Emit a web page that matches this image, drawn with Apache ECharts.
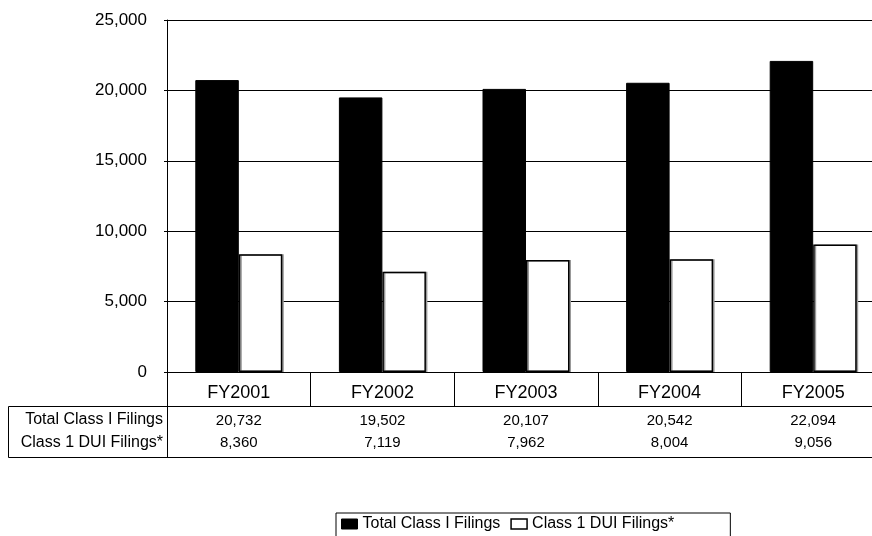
<!DOCTYPE html>
<html><head><meta charset="utf-8">
<script src="https://cdn.jsdelivr.net/npm/echarts@6/dist/echarts.min.js"></script>
<style>html,body{margin:0;padding:0;background:#fff;overflow:hidden;width:872px;height:536px}#c{width:892px;height:536px}</style>
</head><body><div id="c"></div>
<script>
// ---- data ----
const categories = ['FY2001', 'FY2002', 'FY2003', 'FY2004', 'FY2005'];
const totalFilings = [20732, 19502, 20107, 20542, 22094];
const duiFilings = [8360, 7119, 7962, 8004, 9056];
const seriesNames = ['Total Class I Filings', 'Class 1 DUI Filings*'];
const rowLabels = ['Total Class I Filings', 'Class 1 DUI Filings*'];
const yMin = 0, yMax = 25000, yInterval = 5000;

// ---- layout ----
const FONT = 'Liberation Sans, Arial, sans-serif';
const G = { left: 167, top: 20, width: 718, height: 352 };
const catRowH = 34;      // height of the FY label row
const tableH = 51;       // height of the data rows block
const fmt = v => Number(v).toLocaleString('en-US');
const base = G.top + G.height;

const chart = echarts.init(document.getElementById('c'), null, { renderer: 'canvas' });
chart.setOption({
  animation: false,
  backgroundColor: '#fff',
  textStyle: { fontFamily: FONT, color: '#000' },
  grid: { left: G.left, top: G.top, width: G.width, height: G.height, containLabel: false },
  xAxis: [
    {
      type: 'category', data: categories, position: 'bottom',
      axisLine: { show: true, lineStyle: { color: '#000', width: 1 } },
      axisTick: { show: true, length: catRowH, interval: 0, lineStyle: { color: '#000', width: 1 } },
      axisLabel: { show: true, interval: 0, fontSize: 18, margin: 12, color: '#000', fontFamily: FONT }
    },
    {
      type: 'category', data: categories, position: 'bottom', offset: catRowH,
      axisLine: { show: true, lineStyle: { color: '#000', width: 1 } },
      axisTick: { show: false },
      axisLabel: { show: true, interval: 0, fontSize: 15, margin: 7, color: '#000', fontFamily: FONT,
        formatter: (v, i) => fmt(totalFilings[i]) }
    },
    {
      type: 'category', data: categories, position: 'bottom', offset: catRowH,
      axisLine: { show: false }, axisTick: { show: false },
      axisLabel: { show: true, interval: 0, fontSize: 15, margin: 29, color: '#000', fontFamily: FONT,
        formatter: (v, i) => fmt(duiFilings[i]) }
    },
    {
      type: 'category', data: categories, position: 'bottom', offset: catRowH + tableH,
      axisLine: { show: true, lineStyle: { color: '#000', width: 1 } },
      axisTick: { show: false }, axisLabel: { show: false }
    }
  ],
  yAxis: {
    type: 'value', min: yMin, max: yMax, interval: yInterval,
    axisLine: { show: true, lineStyle: { color: '#000', width: 1 } },
    axisTick: { show: true, length: 3, lineStyle: { color: '#000' } },
    splitLine: { show: true, lineStyle: { color: '#000', width: 1 } },
    axisLabel: { fontSize: 17, margin: 20, color: '#000', fontFamily: FONT, formatter: v => fmt(v) }
  },
  legend: {
    left: 336, top: 513, orient: 'horizontal',
    itemWidth: 16, itemHeight: 10, itemGap: 10,
    borderColor: '#000', borderWidth: 1, borderRadius: 0,
    padding: [3, 56, 14, 5],
    textStyle: { fontSize: 16, color: '#000', fontFamily: FONT },
    data: [
      { name: seriesNames[0], icon: 'rect', itemStyle: { color: '#000', borderColor: '#000', borderWidth: 1 } },
      { name: seriesNames[1], icon: 'rect', itemStyle: { color: '#fff', borderColor: '#000', borderWidth: 1.5 } }
    ]
  },
  graphic: [
    { type: 'rect', silent: true,
      shape: { x: 8.5, y: base + catRowH + 0.5, width: G.left - 8, height: tableH },
      style: { fill: 'none', stroke: '#000', lineWidth: 1 } },
    { type: 'text', silent: true,
      style: { text: rowLabels[0], x: G.left - 4, y: base + catRowH + 14, align: 'right', verticalAlign: 'middle',
        font: '16px ' + FONT, fill: '#000' } },
    { type: 'text', silent: true,
      style: { text: rowLabels[1], x: G.left - 4, y: base + catRowH + 37, align: 'right', verticalAlign: 'middle',
        font: '16px ' + FONT, fill: '#000' } }
  ],
  series: [
    { type: 'bar', name: seriesNames[0], data: totalFilings, xAxisIndex: 0,
      barWidth: 43.5, barGap: '0%',
      itemStyle: { color: '#000', borderColor: '#000', borderWidth: 1 } },
    { type: 'bar', name: seriesNames[1], data: duiFilings, xAxisIndex: 0,
      barWidth: 43.5, barGap: '0%',
      itemStyle: { color: '#fff', borderColor: '#000', borderWidth: 1.5,
        shadowColor: '#999', shadowOffsetX: 1.5, shadowBlur: 0 } }
  ]
});
</script>
</body></html>
